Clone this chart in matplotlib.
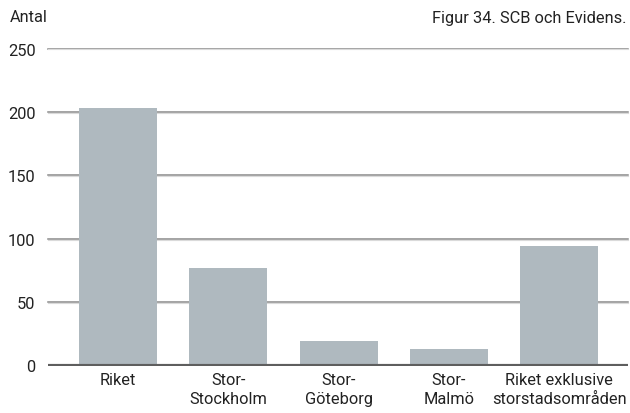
import matplotlib
matplotlib.use("Agg")
import matplotlib.pyplot as plt

categories = ["Riket", "Stor-\nStockholm", "Stor-\nGöteborg", "Stor-\nMalmö",
              "Riket exklusive\nstorstadsområden"]
values = [203, 77, 19, 13, 94]
yticks = [0, 50, 100, 150, 200, 250]

plt.rcParams["font.family"] = ["Roboto", "DejaVu Sans"]
FS = 11.8

fig = plt.figure(figsize=(6.3, 4.14), dpi=100)
ax = fig.add_axes([48 / 630, (414 - 366.5) / 414, 580 / 630, (366.5 - 49.7) / 414])

x = range(len(categories))
ax.bar(x, values, width=0.707, color="#afb9bf", zorder=3)

ax.set_ylim(0, 250)
ax.set_xlim(-0.635, 4.625)
ax.set_yticks(yticks)
ax.set_xticks(list(x))
ax.set_xticklabels(categories, fontsize=FS, color="#222222", linespacing=1.3)
ax.tick_params(axis="y", labelsize=FS, colors="#222222", length=0, pad=9)
ax.tick_params(axis="x", length=0, pad=5)

for t in yticks[1:]:
    ax.axhline(t, color="#8a8a8a", lw=1.1, zorder=1, clip_on=False)
    ax.axhline(t - 0.6, color="#dadada", lw=0.8, zorder=1, clip_on=False)
ax.axhline(0, color="#5e5e5e", lw=3, zorder=4)

for s in ax.spines.values():
    s.set_visible(False)

fig.text(10 / 630, 1 - 18 / 414, "Antal", fontsize=FS, color="#222222",
         ha="left", va="center")
fig.text(627 / 630, 1 - 18 / 414, "Figur 34. SCB och Evidens.", fontsize=FS,
         color="#222222", ha="right", va="center")

fig.savefig("out.png", dpi=100)
